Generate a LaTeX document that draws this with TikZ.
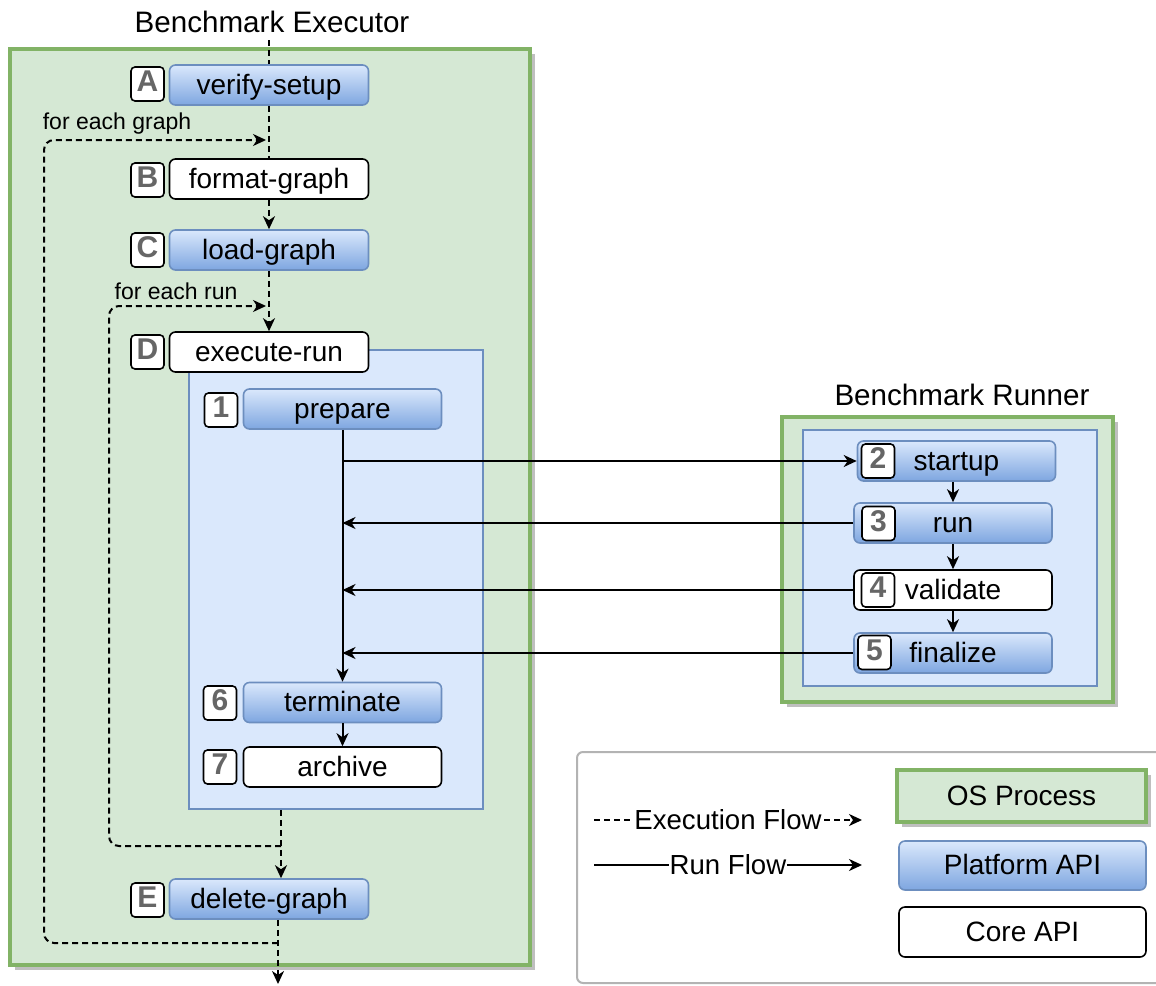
\documentclass[tikz,border=0pt]{standalone}
\usepackage{fontspec}
\setmainfont{Liberation Sans}
\usetikzlibrary{arrows.meta,shadows,calc}
\definecolor{grfill}{HTML}{D5E8D4}
\definecolor{grline}{HTML}{82B366}
\definecolor{blfill}{HTML}{DAE8FC}
\definecolor{blline}{HTML}{6C8EBF}
\definecolor{bltop}{HTML}{DAE8FC}
\definecolor{blbot}{HTML}{7EA6E0}
\definecolor{lblgray}{HTML}{666666}
\definecolor{leggray}{HTML}{B3B3B3}
\begin{document}
\begin{tikzpicture}[x=0.5pt,y=-0.5pt,
 proc/.style={draw=grline, fill=grfill, line width=1.7pt, drop shadow={shadow xshift=2.5pt, shadow yshift=-2.5pt, fill=black!25, opacity=1}, inner sep=0},
 group/.style={draw=blline, fill=blfill, line width=0.8pt, inner sep=0},
 boxbase/.style={rounded corners=3pt, line width=0.8pt, inner sep=0, text height=1.0em, text depth=0.08em, font=\fontsize{14pt}{16pt}\selectfont},
 api/.style={boxbase, draw=blline, top color=bltop, bottom color=blbot},
 core/.style={boxbase, draw=black, fill=white},
 lbl/.style={rounded corners=2pt, draw=black, fill=white, line width=0.8pt, minimum width=16.5pt, minimum height=17pt, inner sep=0, text height=0.78em, text depth=0pt, text=lblgray, font=\fontsize{15pt}{17pt}\selectfont\bfseries},
 exbox/.style={minimum width=99.5pt, minimum height=20pt},
 inbox/.style={minimum width=99pt, minimum height=20pt},
 rbox/.style={minimum width=99pt, minimum height=20pt},
 title/.style={font=\fontsize{14.8pt}{17pt}\selectfont, inner sep=0},
 small/.style={font=\fontsize{11.5pt}{13pt}\selectfont, inner sep=0},
 legtext/.style={font=\fontsize{13.8pt}{16pt}\selectfont, inner sep=0.5pt, fill=white},
 tip/.style={-{Stealth[length=6.5pt,width=6pt,inset=2pt]}},
 exe/.style={draw=black, line width=1pt, dash pattern=on 3pt off 2pt},
 run/.style={draw=black, line width=1pt, tip}
]
\useasboundingbox (0,0) rectangle (1156,985);
\clip (0,0) rectangle (1156,985);

% Executor process
\node[proc, minimum width=260pt, minimum height=458pt] (exec) at (270,507) {};
\node[title] (exectitle) at (272,22) {Benchmark Executor};
\node[group, minimum width=147pt, minimum height=229.5pt] (inner) at (336,579.5) {};

\node[api, exbox] (A) at (269,85) {verify-setup};
\node[lbl] (Al) at (147.5,84) {A};
\node[core, exbox] (B) at (269,179) {format-graph};
\node[lbl] (Bl) at (147.5,180) {B};
\node[api, exbox] (C) at (269,250) {load-graph};
\node[lbl] (Cl) at (147.5,250) {C};
\node[core, exbox] (D) at (269,352) {execute-run};
\node[lbl] (Dl) at (147.5,352) {D};
\node[api, exbox] (E) at (269,899) {delete-graph};
\node[lbl] (El) at (147.5,900) {E};

\node[api, inbox] (s1) at (342.5,409) {prepare};
\node[lbl] (s1l) at (221,410) {1};
\node[api, inbox] (s6) at (342.5,702.5) {terminate};
\node[lbl] (s6l) at (220,703) {6};
\node[core, inbox] (s7) at (342.5,767) {archive};
\node[lbl] (s7l) at (220,767) {7};

\node[small] (fg) at (117,124) {for each graph};
\node[small] (fr) at (176,291) {for each run};

% Runner process
\node[proc, minimum width=165.5pt, minimum height=142.5pt] (runner) at (947.5,559.5) {};
\node[title] (runtitle) at (962,395) {Benchmark Runner};
\node[group, minimum width=147pt, minimum height=128pt] (rinner) at (950,558) {};
\node[api, rbox] (s2) at (956.5,461) {startup};
\node[lbl] (s2l) at (878,461) {2};
\node[api, rbox] (s3) at (953,523) {run};
\node[lbl] (s3l) at (878.5,523.5) {3};
\node[core, rbox] (s4) at (953,590) {validate};
\node[lbl] (s4l) at (878,590) {4};
\node[api, rbox] (s5) at (953,653) {finalize};
\node[lbl] (s5l) at (874.5,652.5) {5};

% execution flow (dashed)
\coordinate (top) at (269,40);
\coordinate (gl) at (278,943);
\coordinate (gt) at (266,140);
\coordinate (rl) at (281,846);
\coordinate (rt) at (266,306);
\coordinate (bottom) at (278,984);
\draw[exe] (top) -- (A.north);
\draw[exe] (A.south) -- (B.north);
\draw[exe,tip] (B.south) -- (C.north);
\draw[exe,tip] (C.south) -- (D.north);
\draw[exe,tip,rounded corners=5pt] (gl) -| (44,140) -- (gt);
\draw[exe,tip,rounded corners=5pt] (rl) -| (109,306) -- (rt);
\draw[exe,tip] (inner.south -| rl) -- (E.north -| rl);
\draw[exe,tip] (E.south -| gl) -- (bottom);

% run flow
\draw[run] (s1.south) -- (s6.north);
\draw[run] (s6.south) -- (s7.north);
\draw[run] (s1.south |- s2.west) -- (s2.west);
\draw[run] (s3.west) -- (s1.south |- s3.west);
\draw[run] (s4.west) -- (s1.south |- s4.west);
\draw[run] (s5.west) -- (s1.south |- s5.west);
\draw[run] (s2.south -| s3.north) -- (s3.north);
\draw[run] (s3.south) -- (s4.north);
\draw[run] (s4.south) -- (s5.north);

% legend
\node[draw=leggray, line width=1pt, rounded corners=3pt, fill=white, minimum width=296.5pt, minimum height=115.5pt] (legend) at (873.5,867.5) {};
\coordinate (l1s) at (594,820);
\coordinate (l1e) at (862,820);
\coordinate (l2s) at (594,865);
\coordinate (l2e) at (862,865);
\draw[exe,tip] (l1s) -- node[legtext] (l1t) {Execution Flow} (l1e);
\draw[run] (l2s) -- node[legtext] (l2t) {Run Flow} (l2e);
\node[proc, minimum width=124.5pt, minimum height=26pt, text height=1.0em, text depth=0.08em, font=\fontsize{14pt}{16pt}\selectfont] (os) at (1021.5,796) {OS Process};
\node[api, minimum width=123.5pt, minimum height=24.5pt] (pa) at (1022.5,865.5) {Platform API};
\node[core, minimum width=123.5pt, minimum height=25pt] (ca) at (1022.5,932) {Core API};
\end{tikzpicture}
\end{document}
